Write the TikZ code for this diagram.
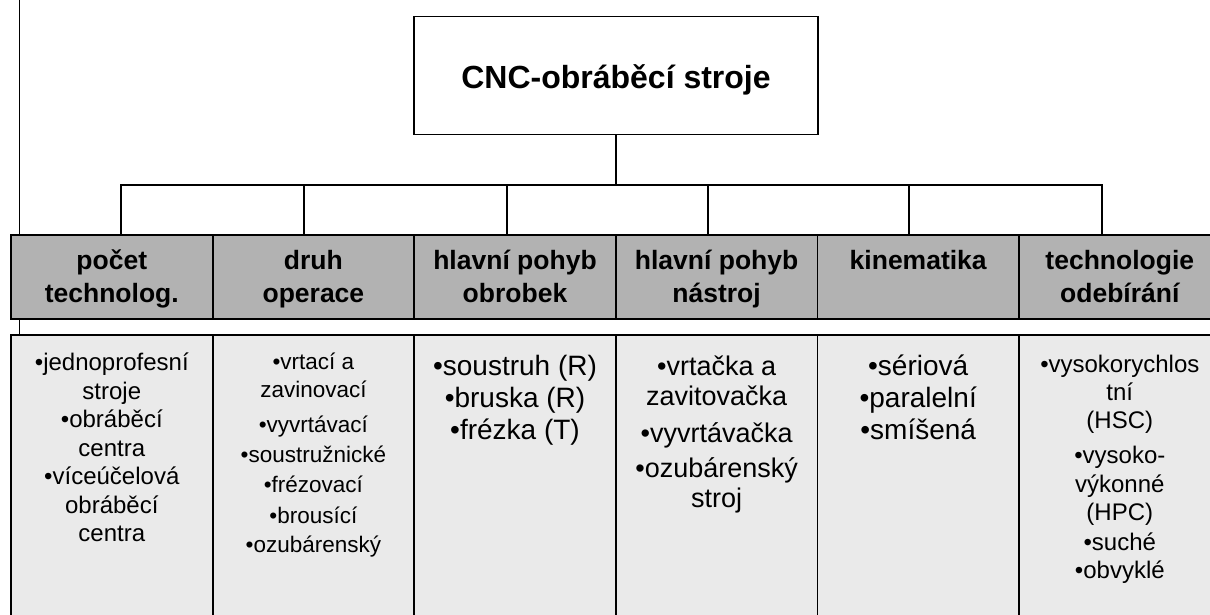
\documentclass[tikz,border=0pt]{standalone}
\usepackage{fontspec}
\setmainfont{Liberation Sans}
\usetikzlibrary{backgrounds}
\definecolor{hdrgray}{HTML}{B2B2B2}
\definecolor{bodygray}{HTML}{EAEAEA}
\newcommand\mystrut{\rule{0pt}{30pt}}
\begin{document}
\begin{tikzpicture}[x=1pt,y=-1pt,line width=1.8pt,
  topbox/.style={draw=black,fill=white,minimum width=404pt,minimum height=118pt,inner sep=0pt},
  hdr/.style={draw=black,fill=hdrgray,minimum width=201.6pt,minimum height=84pt,inner sep=0pt},
  body/.style={draw=black,fill=bodygray,minimum width=201.6pt,minimum height=300pt,inner sep=0pt},
  htxt/.style={anchor=north,inner sep=0pt,align=center,font=\fontsize{26.5}{33}\selectfont\bfseries},
  btxt/.style={anchor=north,inner sep=0pt,align=center},
  conn/.style={draw=black,line width=1.8pt}]
\useasboundingbox (0,0) rectangle (1210,614);
\clip (0,0) rectangle (1210,614);

% top node
\node[topbox] (top) at (616,75.5) {};
\node[anchor=base,inner sep=0pt,font=\fontsize{32}{38}\selectfont\bfseries] (title) at (616,88) {CNC-obráběcí stroje};

% headers
\node[hdr] (h1) at (111.8,277) {};
\node[hdr] (h2) at (313.4,277) {};
\node[hdr] (h3) at (515.0,277) {};
\node[hdr] (h4) at (716.6,277) {};
\node[hdr] (h5) at (918.2,277) {};
\node[hdr] (h6) at (1119.8,277) {};

% bodies
\node[body] (b1) at (111.8,485) {};
\node[body] (b2) at (313.4,485) {};
\node[body] (b3) at (515.0,485) {};
\node[body] (b4) at (716.6,485) {};
\node[body] (b5) at (918.2,485) {};
\node[body] (b6) at (1119.8,485) {};

% header texts
\node[htxt] (t1) at (111.8,239) {\mystrut počet\\technolog.};
\node[htxt] (t2) at (313.4,239) {\mystrut druh\\operace};
\node[htxt] (t3) at (515.0,239) {\mystrut hlavní pohyb\\obrobek};
\node[htxt] (t4) at (716.6,239) {\mystrut hlavní pohyb\\nástroj};
\node[htxt] (t5) at (918.2,239) {\mystrut kinematika};
\node[htxt] (t6) at (1119.8,239) {\mystrut technologie\\odebírání};

% body texts
\node[btxt,font=\fontsize{24}{28.5}\selectfont] (c1) at (111.8,340)
  {\mystrut •jednoprofesní\\stroje\\•obráběcí\\centra\\•víceúčelová\\obráběcí\\centra};
\node[btxt,font=\fontsize{22.5}{28}\selectfont] (c2) at (313.4,339)
  {\mystrut •vrtací a\\zavinovací\\[7pt]•vyvrtávací\\[2pt]•soustružnické\\[2pt]•frézovací\\[3pt]•brousící\\[1pt]•ozubárenský};
\node[btxt,font=\fontsize{28}{32}\selectfont] (c3) at (515.0,345)
  {\mystrut •soustruh (R)\\•bruska (R)\\•frézka (T)};
\node[btxt,font=\fontsize{27}{30}\selectfont] (c4) at (716.6,345)
  {\mystrut •vrtačka a\\zavitovačka\\[7pt]•vyvrtávačka\\[5pt]•ozubárenský\\stroj};
\node[btxt,font=\fontsize{28}{32}\selectfont] (c5) at (918.2,345)
  {\mystrut •sériová\\•paralelní\\•smíšená};
\node[btxt,font=\fontsize{24}{28}\selectfont] (c6) at (1119.8,342)
  {\mystrut •vysokorychlos\\tní\\(HSC)\\[7pt]•vysoko-\\[1pt]výkonné\\(HPC)\\[2pt]•suché\\•obvyklé};

% connectors
\coordinate (bus) at (616,185);
\coordinate (d1) at (121,235);
\coordinate (d2) at (304,235);
\coordinate (d3) at (507,235);
\coordinate (d4) at (708,235);
\coordinate (d5) at (909,235);
\coordinate (d6) at (1102,235);
\draw[conn] (top.south) -- (bus);
\foreach \d in {d1,d2,d3,d4,d5,d6} {\draw[conn] (\d) |- (bus);}

\begin{scope}[on background layer]
\coordinate (lt) at (19.5,0);
\draw[conn] (lt) -- (b1.north -| lt);
\end{scope}
\end{tikzpicture}
\end{document}
